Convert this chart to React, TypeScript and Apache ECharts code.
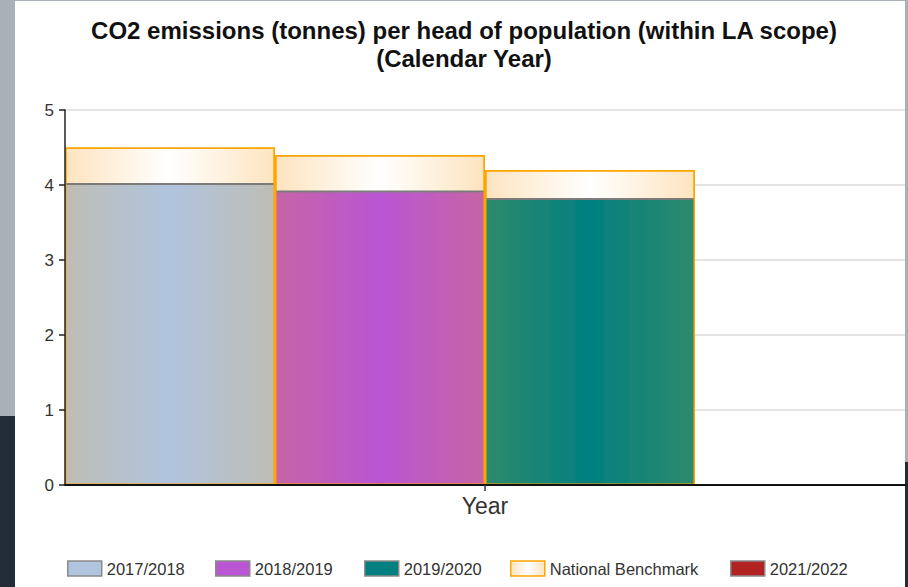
import React, { useEffect, useRef } from "react";
import * as echarts from "echarts";

const categories = ["2017/2018", "2018/2019", "2019/2020", "2021/2022"];
const values: (number | null)[] = [4.0, 3.9, 3.8, null];
const benchmark: (number | null)[] = [4.5, 4.4, 4.2, null];
const axisCategory = ["Year"];
const benchmarkName = "National Benchmark";
const legendOrder = ["2017/2018", "2018/2019", "2019/2020", "National Benchmark", "2021/2022"];

const baseColors = ["#b0c4de", "#ba55d3", "#008080", "#b22222"];
const edgeColors = ["#bebdb5", "#c665a6", "#2f8a6b", "#b53a2a"];
const legendLefts = [67, 215, 364, 510, 730];

const FONT = "'Liberation Sans', Arial, sans-serif";

function grad(edge: string, center: string) {
  return new echarts.graphic.LinearGradient(0, 0, 1, 0, [
    { offset: 0, color: edge },
    { offset: 0.5, color: center },
    { offset: 1, color: edge },
  ]);
}

export default function App() {
  const ref = useRef<HTMLDivElement>(null);
  useEffect(() => {
    if (!ref.current) return;
    const chart = echarts.init(ref.current, null, { renderer: "svg" });

    const yearSeries = categories.map((name, i) => ({
      name,
      type: "bar",
      stack: "years",
      xAxisIndex: 0,
      yAxisIndex: 0,
      barGap: "-100%",
      barCategoryGap: "0%",
      z: 3,
      data: categories.map((_, j) => (j === i ? values[i] : null)),
      itemStyle: {
        color: grad(edgeColors[i], baseColors[i]),
        shadowColor: "rgba(110,110,110,0.9)",
        shadowOffsetY: -2,
        shadowBlur: 0,
      },
    }));

    const benchSeries = {
      name: benchmarkName,
      type: "bar",
      xAxisIndex: 0,
      yAxisIndex: 0,
      barGap: "-100%",
      barCategoryGap: "0%",
      z: 2,
      data: benchmark,
      itemStyle: {
        color: grad("#fde4c0", "#ffffff"),
        borderColor: "#ffa500",
        borderWidth: 1.5,
      },
    };

    const benchOutline = {
      name: "benchmark-outline",
      type: "bar",
      stack: "outline",
      xAxisIndex: 0,
      yAxisIndex: 0,
      barGap: "-100%",
      barCategoryGap: "0%",
      z: 4,
      silent: true,
      data: benchmark,
      itemStyle: {
        color: "rgba(0,0,0,0)",
        borderColor: "#ffa500",
        borderWidth: 1.5,
      },
    };

    const legendItemStyle = (name: string) => {
      const idx = categories.indexOf(name);
      if (idx >= 0) {
        return { color: baseColors[idx], borderColor: "#8a8a8a", borderWidth: 1.5 };
      }
      return { color: grad("#fde4c0", "#ffffff"), borderColor: "#ffa500", borderWidth: 1.5 };
    };

    const legends = legendOrder.map((name, k) => ({
      left: legendLefts[k],
      top: 560,
      padding: 0,
      itemWidth: 34,
      itemHeight: 15,
      itemGap: 5,
      icon: "rect",
      selectedMode: false,
      textStyle: { fontFamily: FONT, fontSize: 16.5, color: "#333" },
      data: [{ name, itemStyle: legendItemStyle(name) }],
    }));

    chart.setOption({
      animation: false,
      backgroundColor: "transparent",
      textStyle: { fontFamily: FONT },
      graphic: [
        {
          type: "text",
          x: 464,
          y: 16,
          style: {
            text: "CO2 emissions (tonnes) per head of population (within LA scope)\n(Calendar Year)",
            align: "center",
            fontFamily: FONT,
            fontSize: 24,
            fontWeight: "bold",
            lineHeight: 28,
            fill: "#111",
          },
        },
      ],
      legend: legends,
      grid: { left: 65, right: 3, top: 110, bottom: 102 },
      xAxis: [
        {
          type: "category",
          data: categories,
          show: false,
        },
        {
          type: "category",
          data: axisCategory,
          position: "bottom",
          boundaryGap: true,
          z: 10,
          axisLine: { show: true, lineStyle: { color: "#111", width: 2 } },
          axisTick: { show: true, alignWithLabel: true, length: 6, lineStyle: { color: "#333", width: 1.5 } },
          axisLabel: { fontFamily: FONT, fontSize: 23, color: "#333", margin: 9 },
          splitLine: { show: false },
        },
      ],
      yAxis: [
        {
          type: "value",
          min: 0,
          max: 5,
          interval: 1,
          z: 0,
          axisLine: { show: false },
          axisTick: { show: false },
          axisLabel: { show: false },
          splitLine: { show: true, lineStyle: { color: "#e4e4e4", width: 2 } },
        },
        {
          type: "value",
          position: "left",
          min: 0,
          max: 5,
          interval: 1,
          z: 10,
          axisLine: { show: true, onZero: false, lineStyle: { color: "#222", width: 1.5 } },
          axisTick: { show: true, length: 6, lineStyle: { color: "#222", width: 1.5 } },
          axisLabel: { fontFamily: FONT, fontSize: 17, color: "#333", margin: 11 },
          splitLine: { show: false },
        },
      ],
      series: [benchSeries, ...yearSeries, benchOutline],
    });
    return () => chart.dispose();
  }, []);

  return (
    <div style={{ position: "fixed", left: 0, top: 0, width: 908, height: 587, background: "#a9b0b8", overflow: "hidden" }}>
      <div style={{ position: "absolute", left: 0, top: 416, width: 15, height: 171, background: "#222c36" }} />
      <div style={{ position: "absolute", left: 905, top: 462, width: 3, height: 125, background: "#222c36" }} />
      <div style={{ position: "absolute", left: 15, top: 1, width: 890, height: 586, background: "#ffffff" }} />
      <div ref={ref} style={{ position: "absolute", left: 0, top: 0, width: 908, height: 587 }} />
    </div>
  );
}
